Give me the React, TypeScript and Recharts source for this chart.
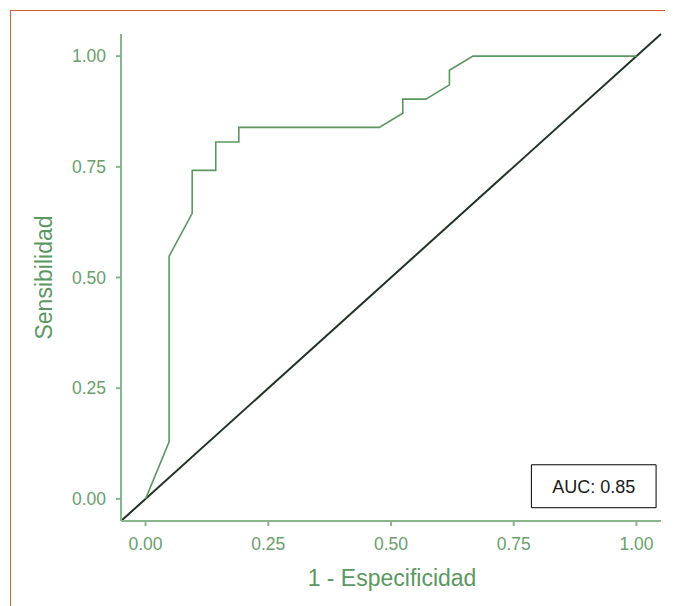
import React from "react";
import {
  LineChart,
  Line,
  XAxis,
  YAxis,
  ReferenceLine,
  ReferenceArea,
  Label,
} from "recharts";

// ROC curve points (1 - especificidad, sensibilidad)
const fpr = [0, 0.048, 0.048, 0.095, 0.095, 0.143, 0.143, 0.19, 0.19, 0.476, 0.524, 0.524, 0.571, 0.619, 0.619, 0.667, 1];
const tpr = [0, 0.129, 0.548, 0.645, 0.742, 0.742, 0.806, 0.806, 0.839, 0.839, 0.871, 0.903, 0.903, 0.935, 0.968, 1, 1];
const ticks = [0, 0.25, 0.5, 0.75, 1];
const aucText = "AUC: 0.85";

const rocData = fpr.map((x, i) => ({ x, y: tpr[i] }));

const GREEN = "#5b985f";
const AXIS = "#88b58a";
const TICK = "#6aa06c";
const FONT = "'Liberation Sans', Arial, sans-serif";

const fmt = (v: number) => v.toFixed(2);

export default function App() {
  return (
    <div style={{ position: "relative", width: 665, height: 598, overflow: "hidden", fontFamily: FONT }}>
      <div
        style={{
          position: "absolute",
          left: 2,
          top: 2,
          width: 800,
          height: 800,
          borderTop: "1.5px solid #d4612b",
          borderLeft: "1.5px solid #d4612b",
        }}
      />
      <LineChart
        width={665}
        height={598}
        data={rocData}
        margin={{ top: 26, right: 12, left: 0, bottom: 0 }}
        style={{ position: "absolute", left: 0, top: 0 }}
      >
        <XAxis
          type="number"
          dataKey="x"
          domain={[-0.05, 1.05]}
          ticks={ticks}
          tickFormatter={fmt}
          height={85}
          allowDataOverflow
          stroke={AXIS}
          strokeWidth={2}
          tickSize={5}
          tickMargin={12}
          tick={{ fill: TICK, fontSize: 17.5, fontFamily: FONT }}
        >
          <Label
            content={({ viewBox }: any) => (
              <text
                x={viewBox.x + viewBox.width / 2 + 1}
                y={578}
                textAnchor="middle"
                fill={GREEN}
                fontSize={23}
                fontFamily={FONT}
              >
                1 - Especificidad
              </text>
            )}
          />
        </XAxis>
        <YAxis
          type="number"
          dataKey="y"
          domain={[-0.05, 1.05]}
          ticks={ticks}
          tickFormatter={fmt}
          width={113}
          allowDataOverflow
          stroke={AXIS}
          strokeWidth={2}
          tickSize={5}
          tickMargin={10}
          tick={{ fill: TICK, fontSize: 17.5, fontFamily: FONT }}
        >
          <Label
            content={({ viewBox }: any) => {
              const cx = 44;
              const cy = viewBox.y + viewBox.height / 2;
              return (
                <text
                  x={cx}
                  y={cy}
                  transform={`rotate(-90 ${cx} ${cy})`}
                  textAnchor="middle"
                  fill={GREEN}
                  fontSize={23}
                  fontFamily={FONT}
                >
                  Sensibilidad
                </text>
              );
            }}
          />
        </YAxis>
        <ReferenceLine
          segment={[
            { x: -0.05, y: -0.05 },
            { x: 1.05, y: 1.05 },
          ]}
          stroke="#1f3326"
          strokeWidth={2}
          ifOverflow="visible"
        />
        <Line
          type="linear"
          dataKey="y"
          stroke={GREEN}
          strokeWidth={1.6}
          dot={false}
          isAnimationActive={false}
        />
        <ReferenceArea
          x1={0.786}
          x2={1.04}
          y1={-0.02}
          y2={0.077}
          fill="#ffffff"
          fillOpacity={1}
          stroke="#000000"
          strokeWidth={1}
          ifOverflow="visible"
        >
          <Label value={aucText} position="center" fill="#1a1a1a" fontSize={18} fontFamily={FONT} />
        </ReferenceArea>
      </LineChart>
    </div>
  );
}
